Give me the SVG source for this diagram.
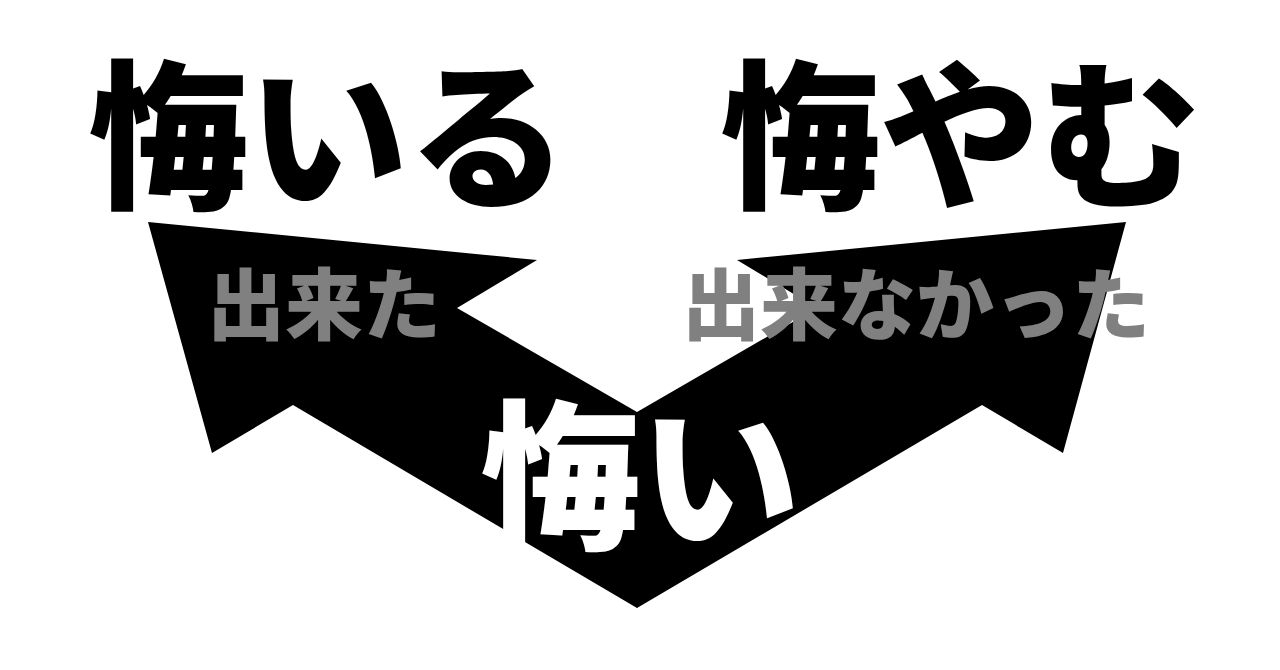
<svg xmlns="http://www.w3.org/2000/svg" width="1280" height="670" viewBox="0 0 1280 670">
<style>
text{font-family:"Noto Sans CJK JP","Noto Sans CJK SC",sans-serif;font-weight:900}
.big{font-size:160px}
.mid{font-size:78px;fill:#808080}
</style>
<rect width="1280" height="670" fill="#ffffff"/>
<g id="connectors">
<polygon id="arrows" fill="#000000" points="148,222 537,260 457,308 637,412 817,308 737,260 1126,222 1063,453 982,405 637,608 293,405 212,453"/>
</g>
<g id="node-kuiru"><text class="big" x="88" y="196" fill="#000">悔いる</text></g>
<g id="node-kuyamu"><text class="big" x="720" y="196" fill="#000">悔やむ</text></g>
<g id="node-dekita"><text class="mid" x="207" y="334">出来た</text></g>
<g id="node-dekinakatta"><text class="mid" x="682" y="334">出来なかった</text></g>
<g id="node-kui"><text class="big" x="480" y="536" fill="#fff">悔い</text></g>
</svg>
